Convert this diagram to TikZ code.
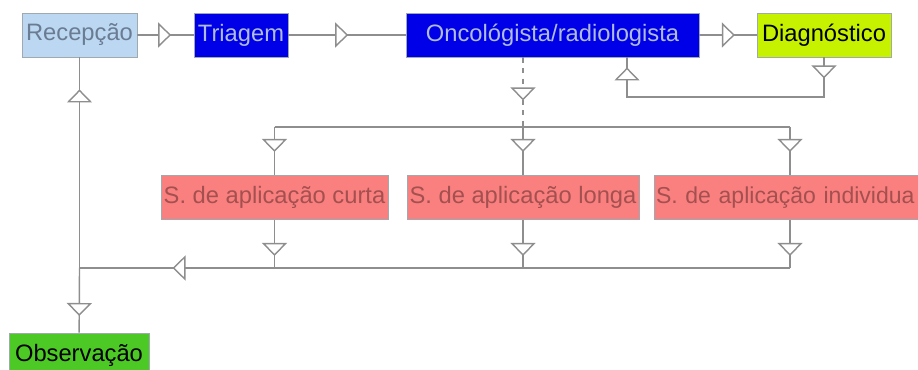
\documentclass[tikz,border=0pt]{standalone}
\usepackage{fontspec}
\setmainfont{Liberation Sans}
\usepackage{tikz}
\usetikzlibrary{arrows.meta, decorations.markings}
\definecolor{recfill}{HTML}{BCD7F2}
\definecolor{rectext}{HTML}{6A7C92}
\definecolor{medblue}{HTML}{0000E8}
\definecolor{medtext}{HTML}{AFBCDD}
\definecolor{diagfill}{HTML}{C6F200}
\definecolor{servfill}{HTML}{FA8080}
\definecolor{servtext}{HTML}{A3504F}
\definecolor{obsfill}{HTML}{4DC925}
\definecolor{boxgray}{HTML}{A0A8B0}
\definecolor{linegray}{HTML}{8E8E8E}

\tikzset{
    box/.style={draw=boxgray, line width=0.5pt, minimum height=0.88cm, inner sep=1pt,
        font=\fontsize{13.5}{16}\selectfont},
    link/.style={draw=linegray, line width=0.8pt},
    tri/.tip={Triangle[fill=white, length=0.26cm, width=0.5cm]},
    tri at/.style={postaction={decorate, decoration={markings,
        mark=at position #1 with {\arrow{tri}}}}}
}

\begin{document}
\begin{tikzpicture}
    \clip (0, 0) rectangle (18.36, 7.4);

    % Top row
    \node[box, fill=recfill, text=rectext, minimum width=2.3cm] (rec) at (1.59, 6.70) {Recepção};
    \node[box, fill=medblue, text=medtext, minimum width=1.88cm] (tria) at (4.82, 6.70) {Triagem};
    \node[box, fill=medblue, text=medtext, minimum width=5.86cm] (onc) at (11.05, 6.70) {Oncológista/radiologista};
    \node[box, fill=diagfill, text=black, minimum width=2.68cm] (diag) at (16.48, 6.70) {Diagnóstico};

    % Services
    \node[box, fill=servfill, text=servtext, minimum width=4.54cm] (curta) at (5.49, 3.45) {S. de aplicação curta};
    \node[box, fill=servfill, text=servtext, minimum width=4.64cm] (longa) at (10.46, 3.45) {S. de aplicação longa};
    \node[box, fill=servfill, text=servtext, minimum width=5.44cm, text width=5.36cm, align=left,
        font=\fontsize{13.1}{16}\selectfont] (indiv) at (15.80, 3.45) {S. de aplicação individua};

    \node[box, fill=obsfill, text=black, minimum width=2.8cm] (obs) at (1.58, 0.30) {Observação};

    \coordinate (topbus) at (0, 4.86);
    \coordinate (botbus) at (0, 2.04);
    \coordinate (fb) at (12.54, 5.46);

    % Main flow
    \draw[link, tri at=0.6] (rec) -- (tria);
    \draw[link, tri at=0.51] (tria) -- (onc);
    \draw[link, tri at=0.62] (onc) -- (diag);
    \draw[link, tri at=0.42cm, tri at=-0.2cm] (diag.south) |- (fb) -- (fb |- onc.south);

    % Down to the services
    \draw[link, dashed, tri at=0.86cm] (longa |- onc.south) -- (longa |- topbus);
    \draw[link] (curta |- topbus) -- (indiv |- topbus);
    \draw[link, tri at=0.5cm] (curta |- topbus) -- (curta);
    \draw[link, tri at=0.5cm] (longa |- topbus) -- (longa);
    \draw[link, tri at=0.5cm] (indiv |- topbus) -- (indiv);

    % Back to reception
    \draw[link, tri at=0.72cm] (curta) -- (curta |- botbus);
    \draw[link, tri at=0.72cm] (longa) -- (longa |- botbus);
    \draw[link, tri at=0.72cm] (indiv) -- (indiv |- botbus);
    \draw[link, tri at=-1.86cm] (indiv |- botbus) -- (rec |- botbus);
    \draw[link, tri at=-0.64cm] (rec |- botbus) -- (rec);
    \draw[link, tri at=0.96cm] (rec |- botbus) -- (obs);
\end{tikzpicture}
\end{document}
